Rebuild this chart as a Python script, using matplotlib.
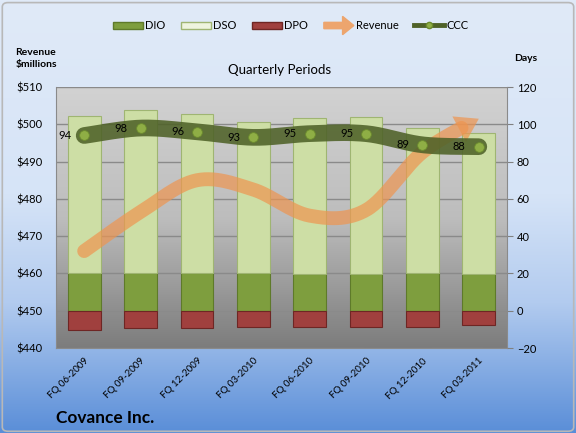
import numpy as np
import matplotlib
matplotlib.use("Agg")
import matplotlib.pyplot as plt
import matplotlib.patches as mpatches
from matplotlib.colors import LinearSegmentedColormap
from matplotlib.legend_handler import HandlerPatch
from matplotlib.lines import Line2D

plt.rcParams["font.family"] = ["Lato", "DejaVu Sans"]

# --- data -------------------------------------------------------------------
quarters = ["FQ 06-2009", "FQ 09-2009", "FQ 12-2009", "FQ 03-2010",
            "FQ 06-2010", "FQ 09-2010", "FQ 12-2010", "FQ 03-2011"]
dio = [20, 20.5, 20.5, 20, 19.5, 19.5, 20, 19.5]
dso = [84.5, 87, 85, 81.5, 84, 84.5, 78, 76]
dpo = [-10.5, -9.5, -9.5, -8.5, -8.5, -9, -9, -7.5]
ccc = [94, 98, 96, 93, 95, 95, 89, 88]
revenue = [466, 476.5, 485, 482.5, 475.5, 477, 492.5, 501.5]

rev_ticks = [440, 450, 460, 470, 480, 490, 500, 510]
day_ticks = [-20, 0, 20, 40, 60, 80, 100, 120]

C_DIO, C_DSO, C_DPO = "#7e9e3e", "#cddea5", "#a0403e"
C_REV, C_CCC = "#ee9550", "#4f6228"


def smooth(xs, ys, n=30):
    """Excel-like smoothed line (Catmull-Rom as cubic Bezier)."""
    p = np.column_stack([xs, ys]).astype(float)
    p = np.vstack([p[0], p, p[-1]])
    out = []
    t = np.linspace(0, 1, n)[:, None]
    for i in range(1, len(p) - 2):
        p0, p1, p2, p3 = p[i - 1], p[i], p[i + 1], p[i + 2]
        c1 = p1 + (p2 - p0) / 6
        c2 = p2 - (p3 - p1) / 6
        seg = ((1 - t) ** 3) * p1 + 3 * ((1 - t) ** 2) * t * c1 \
            + 3 * (1 - t) * t ** 2 * c2 + t ** 3 * p2
        out.append(seg if i == 1 else seg[1:])
    return np.vstack(out)


fig = plt.figure(figsize=(5.76, 4.33), dpi=100)

# figure background gradient
bg = fig.add_axes([0, 0, 1, 1], zorder=-10)
bg_cmap = LinearSegmentedColormap.from_list(
    "bg", [(0, "#e0eaf8"), (0.45, "#d6e4f7"), (0.7, "#b2cbef"), (1, "#5a8ed8")])
bg.imshow(np.linspace(0, 1, 256)[:, None], aspect="auto", cmap=bg_cmap,
          extent=[0, 1, 0, 1], transform=bg.transAxes)
bg.add_patch(mpatches.FancyBboxPatch((0.004, 0.004), 0.992, 0.99,
                                     boxstyle="round,pad=0,rounding_size=0.01",
                                     fc="none", ec="#b8b8b8", lw=1.2,
                                     transform=bg.transAxes))
bg.set_axis_off()

ax = fig.add_axes([0.0972, 0.1963, 0.783, 0.6027])
x = np.arange(len(quarters))

# plot area gradient
pa_cmap = LinearSegmentedColormap.from_list("pa", ["#d2d2d2", "#bdbdbd", "#7c7c7c"])
ax.imshow(np.linspace(0, 1, 256)[:, None], aspect="auto", cmap=pa_cmap,
          extent=[0, 1, 0, 1], transform=ax.transAxes, zorder=0)

ax.set_xlim(-0.5, len(quarters) - 0.5)
ax.set_ylim(day_ticks[0], day_ticks[-1])
ax.yaxis.grid(True, color="#8a8a8a", lw=1)
ax.set_axisbelow(True)

w = 0.58
ax.bar(x, dio, w, color=C_DIO, edgecolor="#5e7a2a", lw=0.8, zorder=2)
ax.bar(x, dso, w, bottom=dio, color=C_DSO, edgecolor="#9fb572", lw=0.8, zorder=2)
ax.bar(x, dpo, w, color=C_DPO, edgecolor="#6e2624", lw=0.8, zorder=2)

ax.set_xticks(x)
ax.set_xticklabels(quarters, rotation=45, ha="right", rotation_mode="anchor",
                   fontsize=7)
ax.tick_params(axis="x", length=0, pad=6)
ax.spines["top"].set_visible(False)
for s in ["left", "right", "bottom"]:
    ax.spines[s].set_color("#8a8a8a")

# revenue axis (drawn above the bars)
ax2 = ax.twinx()
ax2.set_ylim(rev_ticks[0], rev_ticks[-1])
ax2.set_yticks(rev_ticks)
ax2.set_yticklabels(["$%d" % v for v in rev_ticks])
for s in ax2.spines.values():
    s.set_visible(False)

# swap sides: days on the right, revenue on the left
ax.yaxis.tick_right()
ax.set_yticks(day_ticks)
ax.tick_params(axis="y", which="both", left=False, labelleft=False, right=True,
               labelright=True, length=4, labelsize=8, color="#808080", pad=3)
ax2.yaxis.tick_left()
ax2.tick_params(axis="y", which="both", right=False, labelright=False, left=False,
                labelleft=True, labelsize=8, pad=6)

curve = smooth(x, revenue)
# cut the stroke where the arrow head starts
disp = ax2.transData.transform(curve)
dist = np.hypot(*(disp - disp[-1]).T)
head_px = 20
k = np.argmax(dist < head_px)
base = curve[k]
ax2.plot(curve[:k + 1, 0], curve[:k + 1, 1], color=C_REV, lw=10, alpha=0.7,
         solid_capstyle="round", zorder=3)
ax2.add_patch(mpatches.FancyArrowPatch(
    tuple(base), tuple(curve[-1]),
    arrowstyle="simple,head_length=1.0,head_width=1.3,tail_width=0.01",
    mutation_scale=16, color=C_REV, alpha=0.7, lw=0, shrinkA=0, shrinkB=0,
    zorder=3))

# CCC on the days scale, above revenue
cc = smooth(x, ccc)
ax2.plot(cc[:, 0], cc[:, 1], color=C_CCC, lw=12, alpha=0.88,
         solid_capstyle="round", transform=ax.transData, zorder=4)
ax2.plot(x, ccc, "o", ms=7, color="#8fae45", mec="#6b8a2e", mew=0.6,
         transform=ax.transData, zorder=5)
for xi, v in zip(x, ccc):
    ax2.annotate(str(v), (xi, v), xycoords=ax.transData, xytext=(-14, 0),
                 textcoords="offset points", ha="center", va="center",
                 fontsize=8, zorder=6)

# texts
fig.text(0.485, 0.838, "Quarterly Periods", ha="center", va="center", fontsize=9.5)
fig.text(0.027, 0.864, "Revenue\n$millions", ha="left", va="center",
         fontsize=7.5, fontweight="bold", linespacing=1.45)
fig.text(0.892, 0.866, "Days", ha="left", va="center", fontsize=7.5,
         fontweight="bold")
fig.text(0.097, 0.035, "Covance Inc.", ha="left", va="center", fontsize=12.4,
         fontweight="bold")


# legend
def make_arrow(legend, orig_handle, xdescent, ydescent, width, height, fontsize):
    return mpatches.FancyArrow(0, 0.5 * height, width, 0, length_includes_head=True,
                               width=height * 0.9, head_width=height * 2.6,
                               head_length=height * 1.6)


handles = [
    mpatches.Patch(fc=C_DIO, ec="#5e7a2a"),
    mpatches.Patch(fc="#eef4de", ec="#9fb572"),
    mpatches.Patch(fc=C_DPO, ec="#6e2624"),
    mpatches.FancyArrow(0, 0, 1, 0, color="#eda56e"),
    Line2D([], [], color=C_CCC, lw=3.5, marker="o", ms=4.5, mfc="#8fae45",
           mec="#6b8a2e"),
]
fig.legend(handles, ["DIO", "DSO", "DPO", "Revenue", "CCC"], ncol=5,
           loc="center", bbox_to_anchor=(0.505, 0.941), frameon=False,
           fontsize=8, handlelength=2.7, handleheight=0.6, handletextpad=0.2,
           columnspacing=1.4,
           handler_map={mpatches.FancyArrow: HandlerPatch(patch_func=make_arrow)})

fig.savefig("out.png", dpi=100)
